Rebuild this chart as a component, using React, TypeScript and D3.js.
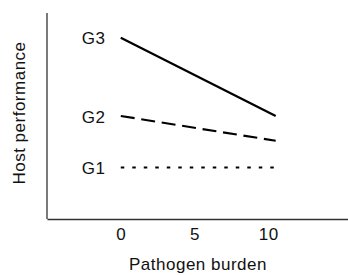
import { useRef, useEffect } from 'react';
import * as d3 from 'd3';

const groups = ['G1', 'G2', 'G3'];
const burden = [0, 10.5];
const g1 = [2.5, 2.5];
const g2 = [5.0, 3.8];
const g3 = [8.8, 5.0];
const xTicks = [0, 5, 10];
const dashes = ['3.5,8', '14,6.7', null];

export default function App() {
  const svgRef = useRef<SVGSVGElement>(null);

  useEffect(() => {
    const w = 348;
    const h = 275;
    const font = 'Liberation Sans, Arial, sans-serif';
    const fs = 17;
    const ls = 0.5;
    const svg = d3.select(svgRef.current)
      .attr('width', w)
      .attr('height', h)
      .style('background', '#fff');
    svg.selectAll('*').remove();

    const xScale = d3.scaleLinear().domain([-5, 15.4]).range([47, 348]);
    const yScale = d3.scaleLinear().domain([0, 10]).range([219, 13]);

    // x axis: no tick marks, only labels
    const xAxis = d3.axisBottom(xScale)
      .tickValues(xTicks)
      .tickSize(0)
      .tickFormat(d => String(d));
    const gx = svg.append('g')
      .attr('transform', `translate(0, ${yScale(0)})`)
      .call(xAxis);
    gx.select('.domain').attr('stroke', '#333').attr('stroke-width', 1.3);
    gx.selectAll('.tick text')
      .attr('font-family', font)
      .attr('font-size', fs)
      .attr('letter-spacing', ls)
      .attr('fill', '#111')
      .attr('dy', null)
      .attr('y', 21);

    // y axis: only the line
    svg.append('line')
      .attr('x1', xScale(-5)).attr('x2', xScale(-5))
      .attr('y1', yScale(0)).attr('y2', yScale(10))
      .attr('stroke', '#333')
      .attr('stroke-width', 1.3);

    const series = [g1, g2, g3];
    const line = d3.line<number>()
      .x((d, i) => xScale(burden[i]))
      .y(d => yScale(d));

    series.forEach((s, k) => {
      const p = svg.append('path')
        .attr('d', line(s))
        .attr('fill', 'none')
        .attr('stroke', '#000')
        .attr('stroke-width', 2.2);
      if (dashes[k]) p.attr('stroke-dasharray', dashes[k]);

      svg.append('text')
        .attr('x', xScale(burden[0]) - 39)
        .attr('y', yScale(s[0]) + 6.5)
        .attr('font-family', font)
        .attr('font-size', fs)
        .attr('letter-spacing', ls)
        .attr('fill', '#111')
        .text(groups[k]);
    });

    svg.append('text')
      .attr('x', 198)
      .attr('y', 270)
      .attr('text-anchor', 'middle')
      .attr('font-family', font)
      .attr('font-size', fs)
      .attr('letter-spacing', ls)
      .attr('fill', '#111')
      .text('Pathogen burden');

    svg.append('text')
      .attr('transform', 'translate(24.5, 113) rotate(-90)')
      .attr('text-anchor', 'middle')
      .attr('font-family', font)
      .attr('font-size', fs)
      .attr('letter-spacing', ls)
      .attr('fill', '#111')
      .text('Host performance');
  }, []);

  return (
    <svg ref={svgRef} style={{ position: 'absolute', left: 0, top: 0 }}></svg>
  );
}
